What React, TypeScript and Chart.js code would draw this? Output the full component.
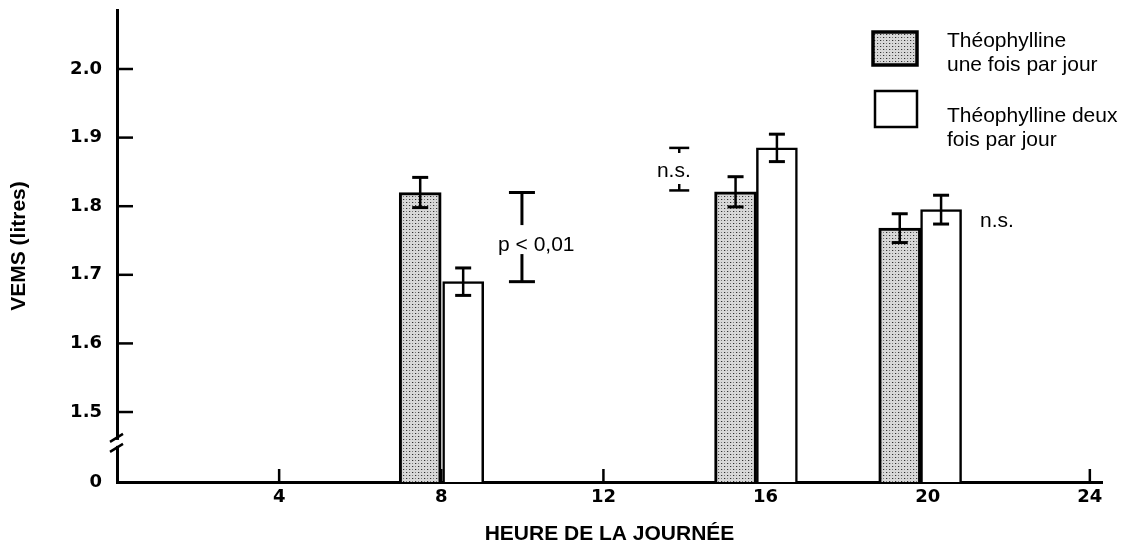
import React, { useEffect, useRef } from "react";
import { Chart, registerables } from "chart.js";

Chart.register(...registerables);

// ---- data ----
const seriesLabels = ["Théophylline une fois par jour", "Théophylline deux fois par jour"];
const legendLines = [
  ["Théophylline", "une fois par jour"],
  ["Théophylline deux", "fois par jour"],
];
const onceDailyX = [7.48, 15.26, 19.31];
const twiceDailyX = [8.54, 16.28, 20.33];
const onceDailyFEV = [1.82, 1.821, 1.768];
const twiceDailyFEV = [1.69, 1.885, 1.795];
const onceDailyErr = [0.022, 0.022, 0.021];
const twiceDailyErr = [0.02, 0.02, 0.021];

const xTickValues = [4, 8, 12, 16, 20, 24];
const yTickValues = [1.398, 1.5, 1.6, 1.7, 1.8, 1.9, 2.0];
const yTickLabels = ["0", "1.5", "1.6", "1.7", "1.8", "1.9", "2.0"];
const X_MIN = 0;
const X_MAX = 24.3;
const Y_MIN = 1.398;
const Y_MAX = 2.086;
const Y_BREAK = 1.455;

const bracketX = [9.99, 13.87];
const bracketTop = [1.82, 1.885];
const bracketBottom = [1.69, 1.823];
const annotationTexts = ["p < 0,01", "n.s.", "n.s."];
const annotationX = [9.4, 13.32, 21.29];
const annotationY = [1.7346, 1.8426, 1.7692];

const xTitle = "HEURE DE LA JOURNÉE";
const yTitle = "VEMS (litres)";

function makeStipple(): CanvasPattern | string {
  const tile = document.createElement("canvas");
  tile.width = 6;
  tile.height = 6;
  const t = tile.getContext("2d");
  if (!t) return "#c8c8c8";
  t.fillStyle = "#d8d8d8";
  t.fillRect(0, 0, 6, 6);
  t.fillStyle = "#2e2e2e";
  t.fillRect(1, 1, 1, 1);
  t.fillRect(4, 4, 1, 1);
  t.fillStyle = "#7a7a7a";
  t.fillRect(4, 1, 1, 1);
  t.fillRect(1, 4, 1, 1);
  t.fillStyle = "#b0b0b0";
  t.fillRect(2, 1, 1, 1);
  t.fillRect(5, 4, 1, 1);
  const p = t.createPattern(tile, "repeat");
  return p || "#c8c8c8";
}

const TEXT_FONT = "21px 'Liberation Sans', Arial, sans-serif";

export default function App() {
  const canvasRef = useRef<HTMLCanvasElement | null>(null);

  useEffect(() => {
    const canvas = canvasRef.current;
    if (!canvas) return;
    const stipple = makeStipple();

    const line = (ctx: CanvasRenderingContext2D, x1: number, y1: number, x2: number, y2: number) => {
      ctx.beginPath();
      ctx.moveTo(x1, y1);
      ctx.lineTo(x2, y2);
      ctx.stroke();
    };

    const overlay = {
      id: "overlay",
      beforeDatasetsDraw(chart: any) {
        const { ctx, chartArea } = chart;
        const x = chart.scales.x;
        const y = chart.scales.y;
        ctx.save();
        ctx.strokeStyle = "#000";
        ctx.lineWidth = 2.5;
        yTickValues.slice(1).forEach((v) => {
          const py = y.getPixelForValue(v);
          line(ctx, chartArea.left, py, chartArea.left + 16, py);
        });
        xTickValues.forEach((v) => {
          const px = x.getPixelForValue(v);
          line(ctx, px, chartArea.bottom, px, chartArea.bottom - 13);
        });
        ctx.restore();
      },
      afterDatasetsDraw(chart: any) {
        const { ctx, chartArea } = chart;
        const x = chart.scales.x;
        const y = chart.scales.y;
        ctx.save();
        ctx.strokeStyle = "#000";
        ctx.lineCap = "butt";

        // error bars
        const drawErr = (xs: number[], vals: number[], errs: number[]) => {
          xs.forEach((xv, i) => {
            const px = x.getPixelForValue(xv);
            const top = y.getPixelForValue(vals[i] + errs[i]);
            const bot = y.getPixelForValue(vals[i] - errs[i]);
            ctx.lineWidth = 2.5;
            line(ctx, px, top, px, bot);
            ctx.lineWidth = 3;
            line(ctx, px - 8, top, px + 8, top);
            line(ctx, px - 8, bot, px + 8, bot);
          });
        };
        drawErr(onceDailyX, onceDailyFEV, onceDailyErr);
        drawErr(twiceDailyX, twiceDailyFEV, twiceDailyErr);

        // significance brackets
        bracketX.forEach((bx, i) => {
          const px = x.getPixelForValue(bx);
          const top = y.getPixelForValue(bracketTop[i]);
          const bot = y.getPixelForValue(bracketBottom[i]);
          const base = y.getPixelForValue(annotationY[i]);
          const half = i === 0 ? 13 : 10;
          ctx.lineWidth = i === 0 ? 3 : 2.5;
          line(ctx, px - half, top, px + half, top);
          line(ctx, px - half, bot, px + half, bot);
          line(ctx, px, top, px, base - (i === 0 ? 26 : 24));
          line(ctx, px, base + (i === 0 ? 3 : 7), px, bot);
        });

        // annotation texts
        ctx.fillStyle = "#000";
        ctx.font = TEXT_FONT;
        ctx.textAlign = "left";
        ctx.textBaseline = "alphabetic";
        annotationTexts.forEach((txt, i) => {
          ctx.fillText(txt, x.getPixelForValue(annotationX[i]), y.getPixelForValue(annotationY[i]));
        });

        // axis break on y axis
        const by = y.getPixelForValue(Y_BREAK);
        const ax = chartArea.left;
        ctx.fillStyle = "#fff";
        ctx.fillRect(ax - 3, by - 3, 6, 6);
        ctx.lineWidth = 2.5;
        line(ctx, ax - 7, by - 1, ax + 6, by - 9);
        line(ctx, ax - 7, by + 9, ax + 6, by + 1);

        // legend
        const boxes = [
          { x: 873, y: 32, w: 44, h: 33, fill: stipple, lw: 3.5 },
          { x: 875, y: 91, w: 42, h: 36, fill: "#fff", lw: 2.5 },
        ];
        const baselines = [
          [47, 71],
          [122, 146],
        ];
        boxes.forEach((b, i) => {
          ctx.fillStyle = b.fill as any;
          ctx.fillRect(b.x, b.y, b.w, b.h);
          ctx.lineWidth = b.lw;
          ctx.strokeStyle = "#000";
          ctx.strokeRect(b.x, b.y, b.w, b.h);
          ctx.fillStyle = "#000";
          ctx.font = TEXT_FONT;
          legendLines[i].forEach((txt, j) => {
            ctx.fillText(txt, 947, baselines[i][j]);
          });
        });
        ctx.restore();
      },
    };

    const chart = new Chart(canvas, {
      type: "bar",
      data: {
        datasets: [
          {
            label: seriesLabels[0],
            data: onceDailyX.map((xv, i) => ({ x: xv, y: onceDailyFEV[i] })),
            backgroundColor: stipple as any,
            borderColor: "#000",
            borderWidth: 3,
            barThickness: 42,
            grouped: false,
            borderSkipped: "bottom",
          } as any,
          {
            label: seriesLabels[1],
            data: twiceDailyX.map((xv, i) => ({ x: xv, y: twiceDailyFEV[i] })),
            backgroundColor: "#fff",
            borderColor: "#000",
            borderWidth: 2.5,
            barThickness: 41,
            grouped: false,
            borderSkipped: "bottom",
          } as any,
        ],
      },
      options: {
        animation: false,
        responsive: false,
        layout: { padding: { left: 0, top: 10, right: 19, bottom: 0 } },
        plugins: { legend: { display: false }, tooltip: { enabled: false } },
        scales: {
          x: {
            type: "linear",
            min: X_MIN,
            max: X_MAX,
            offset: false,
            grid: { display: false, drawTicks: false },
            border: { display: true, color: "#000", width: 3 },
            ticks: {
              color: "#000",
              padding: 5,
              font: { family: "'DejaVu Sans', sans-serif", size: 18, weight: "bold", lineHeight: 1.2 },
              callback: (v: any) => String(v),
            },
            afterBuildTicks: (s: any) => {
              s.ticks = xTickValues.map((v) => ({ value: v }));
            },
            afterFit: (s: any) => {
              s.height = 60;
              s.paddingLeft = 0;
              s.paddingRight = 0;
            },
            title: {
              display: true,
              text: xTitle,
              color: "#000",
              font: { family: "'Liberation Sans', Arial, sans-serif", size: 21, weight: "bold", lineHeight: 1 },
              padding: { top: 0, bottom: -3 },
            },
          },
          y: {
            type: "linear",
            min: Y_MIN,
            max: Y_MAX,
            grid: { display: false, drawTicks: false },
            border: { display: true, color: "#000", width: 3 },
            ticks: {
              color: "#000",
              padding: 15,
              font: { family: "'DejaVu Sans', sans-serif", size: 18, weight: "bold", lineHeight: 1 },
              callback: (_v: any, i: number) => yTickLabels[i] ?? "",
            },
            afterBuildTicks: (s: any) => {
              s.ticks = yTickValues.map((v) => ({ value: v }));
            },
            afterFit: (s: any) => {
              s.width = 117;
              s.paddingTop = 0;
              s.paddingBottom = 0;
            },
            title: {
              display: true,
              text: yTitle,
              color: "#000",
              font: { family: "'Liberation Sans', Arial, sans-serif", size: 21, weight: "bold", lineHeight: 1.2 },
              padding: { top: 7, bottom: 0 },
            },
          },
        },
      } as any,
      plugins: [overlay],
    });

    return () => chart.destroy();
  }, []);

  return (
    <div style={{ position: "absolute", left: 0, top: 0, width: 1121, height: 542, background: "#fff" }}>
      <canvas ref={canvasRef} width={1121} height={542} style={{ display: "block" }} />
    </div>
  );
}
